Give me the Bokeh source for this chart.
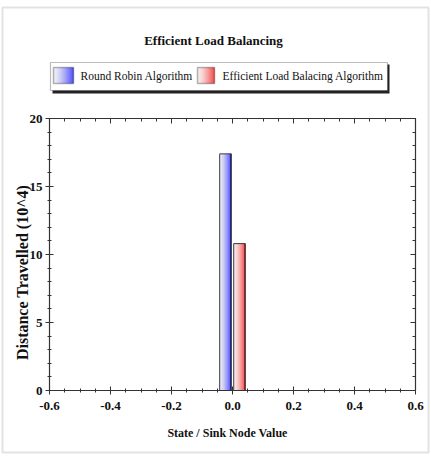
import math
import numpy as np
from bokeh.plotting import figure
from bokeh.models import (Range1d, LinearAxis, BoxAnnotation, Label,
                          FixedTicker, PrintfTickFormatter, CustomJSTickFormatter)
from bokeh.embed import file_html
from bokeh.resources import INLINE

# ---- data -------------------------------------------------------------
states = [0.0]                       # state / sink node value
round_robin = [17.4]                 # distance travelled (10^4)
efficient_lb = [10.8]                # distance travelled (10^4)
series_names = ["Round Robin Algorithm", "Efficient Load Balacing Algorithm"]
x_ticks = [-0.6, -0.4, -0.2, 0.0, 0.2, 0.4, 0.6]
y_ticks = [0, 5, 10, 15, 20]
X_LIM = (-0.6, 0.6)
Y_LIM = (0, 20)

# ---- layout -----------------------------------------------------------
W, H = 431, 457
PL, PR, PT, PB = 49, 415, 118, 390   # plot-area edges in canvas pixels
SERIF = "Liberation Serif"

# the frame spans the whole canvas; ranges are padded so that the
# plot area lands on the pixel box above
kx = (PR - PL) / (X_LIM[1] - X_LIM[0])
ky = (PB - PT) / (Y_LIM[1] - Y_LIM[0])
x_range = Range1d(X_LIM[0] - PL / kx, X_LIM[1] + (W - PR) / kx)
y_range = Range1d(Y_LIM[0] - (H - PB) / ky, Y_LIM[1] + PT / ky)

p = figure(width=W, height=H, output_backend="svg", toolbar_location=None,
           x_range=x_range, y_range=y_range, x_axis_type=None, y_axis_type=None,
           min_border=0)
p.title.visible = False
p.xgrid.visible = False
p.ygrid.visible = False
p.outline_line_color = None
p.background_fill_color = "white"
p.border_fill_color = "white"

BLUE = ((232, 232, 240), (30, 30, 255), (10, 10, 120))
RED = ((246, 230, 230), (240, 25, 25), (130, 10, 10))


def shade(light, dark, t):
    s = t ** 1.4
    return "#%02x%02x%02x" % tuple(int(round(a + (b - a) * s)) for a, b in zip(light, dark))


def gradient_bars(xs, tops, offset, width, colours, n=18):
    light, dark, edge = colours
    for x0, top in zip(xs, tops):
        left = x0 + offset - width / 2
        sw = width / n
        cx = [left + (i + 0.5) * sw for i in range(n)]
        cols = [shade(light, dark, i / (n - 1)) for i in range(n)]
        p.vbar(x=cx, width=sw * 1.02, top=[top] * n, bottom=0,
               fill_color=cols, line_color=None)
        p.vbar(x=[left + width - sw * 0.75], width=sw * 1.5, top=[top], bottom=0,
               fill_color="#%02x%02x%02x" % edge, line_color=None)
    p.vbar(x=[x + offset for x in xs], width=width, top=tops, bottom=0,
           fill_alpha=0, line_color="#3a3a3a", line_width=1)


BAR_W = 0.038
gradient_bars(states, round_robin, -0.023, BAR_W, BLUE)
gradient_bars(states, efficient_lb, 0.023, BAR_W, RED)

# ---- axes (pinned to the plot-area box) ---------------------------------
x_minor = [round(v, 2) for v in np.arange(X_LIM[0], X_LIM[1] + 1e-9, 0.05)]
y_minor = list(range(Y_LIM[0], Y_LIM[1] + 1))
xt = FixedTicker(ticks=x_ticks, minor_ticks=x_minor)
yt = FixedTicker(ticks=y_ticks, minor_ticks=y_minor)
blank = CustomJSTickFormatter(code="return ''")

AX = dict(axis_line_color="#333333", axis_line_width=1.2,
          major_tick_line_color="#333333", minor_tick_line_color="#333333",
          major_label_text_font=SERIF, major_label_text_font_style="bold",
          major_label_text_font_size="13px", major_label_text_color="#111111")

bottom_ax = LinearAxis(ticker=xt, formatter=PrintfTickFormatter(format="%.1f"),
                       fixed_location=Y_LIM[0], bounds=X_LIM, major_label_standoff=7,
                       major_tick_in=4, major_tick_out=4, minor_tick_in=2, minor_tick_out=2, **AX)
left_ax = LinearAxis(ticker=yt, fixed_location=X_LIM[0], bounds=Y_LIM, major_label_standoff=3,
                     major_tick_in=4, major_tick_out=4, minor_tick_in=2, minor_tick_out=2, **AX)
top_ax = LinearAxis(ticker=xt, formatter=blank, fixed_location=Y_LIM[1], bounds=X_LIM,
                    major_tick_in=5, major_tick_out=0, minor_tick_in=3, minor_tick_out=0, **AX)
right_ax = LinearAxis(ticker=yt, formatter=blank, fixed_location=X_LIM[1], bounds=Y_LIM,
                      major_tick_in=5, major_tick_out=0, minor_tick_in=3, minor_tick_out=0, **AX)
p.add_layout(bottom_ax, "below")
p.add_layout(left_ax, "left")
p.add_layout(top_ax, "above")
p.add_layout(right_ax, "right")


# ---- texts and decorations in canvas pixels ------------------------------
def cbox(l, t, r, b, **kw):
    p.add_layout(BoxAnnotation(left=l, right=r, top=H - t, bottom=H - b,
                               left_units="screen", right_units="screen",
                               top_units="screen", bottom_units="screen", **kw))


def clabel(x, y, text, size, bold=False, align="left", angle=0.0):
    p.add_layout(Label(x=x, y=H - y, x_units="screen", y_units="screen",
                       text=text, text_font=SERIF, text_font_size=size,
                       text_font_style="bold" if bold else "normal",
                       text_color="#111111", text_align=align,
                       text_baseline="middle", angle=angle))


# outer frame of the picture
cbox(2, 7, 428, 452, fill_alpha=0, line_color="#a0a0a0", line_width=2)

# title and axis titles
clabel(213, 40, "Efficient Load Balancing", "13px", bold=True, align="center")
clabel(227, 432, "State / Sink Node Value", "12px", bold=True, align="center")
clabel(22, 272, "Distance Travelled (10^4)", "16px", bold=True, align="center",
       angle=math.pi / 2)

# legend: shadow, box, swatches, texts
cbox(52, 64, 389, 93, fill_color="#222222", fill_alpha=1, line_color=None)
cbox(50, 62, 387, 90, fill_color="white", fill_alpha=1,
     line_color="#222222", line_width=1.2)


def swatch(l, t, r, b, colours):
    light, dark, edge = colours
    n = r - l
    for i in range(n):
        cbox(l + i, t, l + i + 1, b, fill_color=shade(light, dark, i / (n - 1)),
             fill_alpha=1, line_color=None)
    cbox(l, t, r, b, fill_alpha=0, line_color="#111111", line_width=1.5)


swatch(53, 67, 73, 83, BLUE)
swatch(197, 67, 214, 83, RED)
clabel(80, 75, series_names[0], "11.5px")
clabel(222, 75, series_names[1], "11.5px")

open("out.html", "w").write(file_html(p, INLINE))
